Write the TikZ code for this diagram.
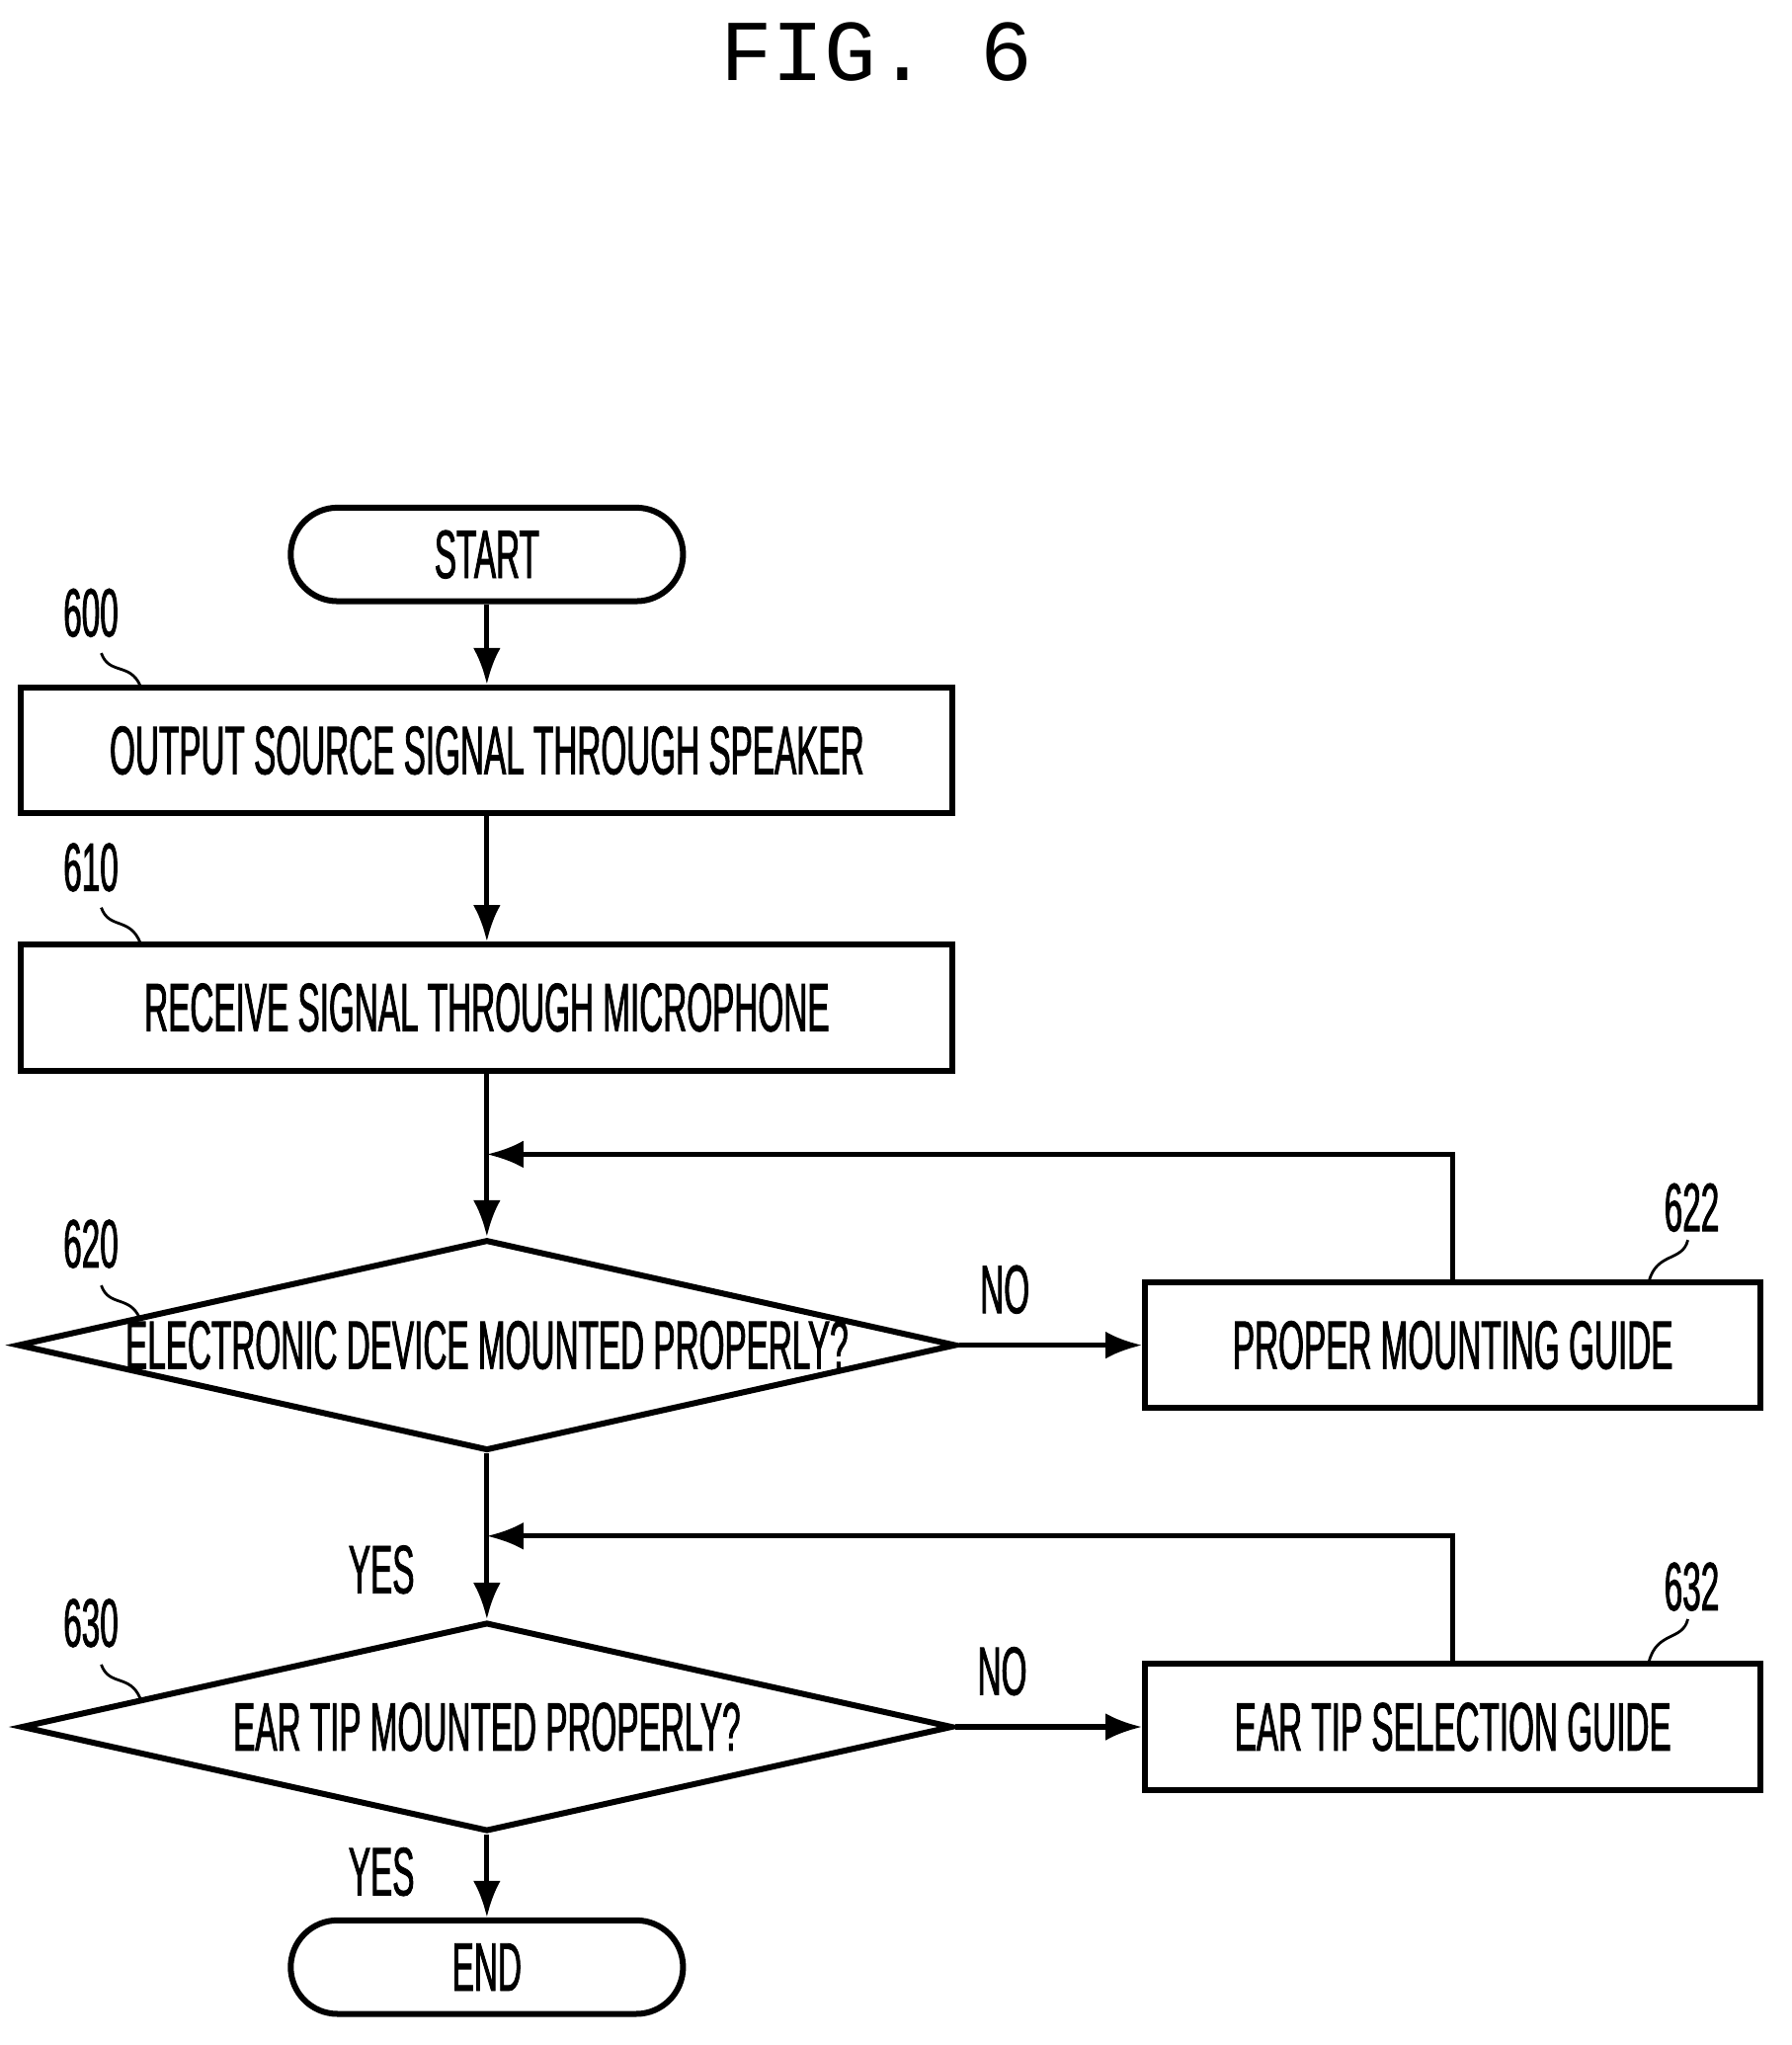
\documentclass[tikz,border=0pt]{standalone}
\usepackage{fontspec}
\setmainfont{Liberation Sans}[FakeStretch=0.48, FakeBold=1.2]
\newfontfamily\figfont{Liberation Mono}
\usetikzlibrary{shapes.geometric,arrows.meta}

\tikzset{
  lbl/.style={font=\fontsize{15}{15}\selectfont},
  procbox/.style={draw, line width=1.3pt, minimum width=7.17cm, minimum height=0.97cm, font=\fontsize{15}{15}\selectfont},
  term/.style={draw, line width=1.3pt, rounded corners=0.36cm, minimum width=3.02cm, minimum height=0.72cm, font=\fontsize{15}{15}\selectfont},
  test/.style={draw, line width=1.3pt, diamond, aspect=4.45, inner sep=0pt, minimum width=7.17cm, minimum height=1.61cm, font=\fontsize{15}{15}\selectfont},
  guide/.style={draw, line width=1.3pt, minimum width=4.74cm, minimum height=0.97cm, font=\fontsize{15}{15}\selectfont},
  flow/.style={line width=1.1pt, -{Latex[length=8pt,width=6pt]}},
  tag/.style={line width=0.6pt}
}

\begin{document}
\begin{tikzpicture}[x=0.01cm, y=-0.01cm]
	\useasboundingbox (0,0) rectangle (1380,1575);
	\node[font=\figfont\fontsize{19}{19}\selectfont] (fig) at (675,40) {FIG. 6};
	\node[term] (start) at (375,427) {START};
	\node[procbox] (s600) at (375,578) {OUTPUT SOURCE SIGNAL THROUGH SPEAKER};
	\node[procbox] (s610) at (375,776) {RECEIVE SIGNAL THROUGH MICROPHONE};
	\node[test] (d620) at (375,1036) {ELECTRONIC DEVICE MOUNTED PROPERLY?};
	\node[guide] (s622) at (1119,1036) {PROPER MOUNTING GUIDE};
	\node[test] (d630) at (375,1330) {EAR TIP MOUNTED PROPERLY?};
	\node[guide] (s632) at (1119,1330) {EAR TIP SELECTION GUIDE};
	\node[term] (end) at (375,1515) {END};
	\coordinate (j1) at (375,889);
	\coordinate (j2) at (375,1183);
	% reference numerals
	\node[lbl] (n600) at (70,472) {600};
	\node[lbl] (n610) at (70,668) {610};
	\node[lbl] (n620) at (70,958) {620};
	\node[lbl] (n630) at (70,1250) {630};
	\node[lbl] (n622) at (1303,930) {622};
	\node[lbl] (n632) at (1303,1222) {632};
	\draw[tag] (78,503) .. controls (84,520) and (100,510) .. (108,528);
	\draw[tag] (78,699) .. controls (84,716) and (100,706) .. (108,726);
	\draw[tag] (78,990) .. controls (84,1007) and (100,997) .. (108,1016);
	\draw[tag] (78,1282) .. controls (84,1299) and (100,1289) .. (108,1308);
	\draw[tag] (1300,955) .. controls (1296,972) and (1276,964) .. (1270,987);
	\draw[tag] (1300,1247) .. controls (1296,1264) and (1276,1256) .. (1270,1280);
	% connectors
	\draw[flow] (start) -- (s600);
	\draw[flow] (s600) -- (s610);
	\draw[flow] (s610) -- (d620);
	\draw[flow] (s622.north) |- (j1);
	\draw[flow] (d620) -- node[lbl, pos=0.25, above=3pt] {NO} (s622);
	\draw[flow] (d620) -- node[lbl, pos=0.7, left=12pt] {YES} (d630);
	\draw[flow] (s632.north) |- (j2);
	\draw[flow] (d630) -- node[lbl, pos=0.25, above=3pt] {NO} (s632);
	\draw[flow] (d630) -- node[lbl, pos=0.45, left=12pt] {YES} (end);
\end{tikzpicture}
\end{document}
